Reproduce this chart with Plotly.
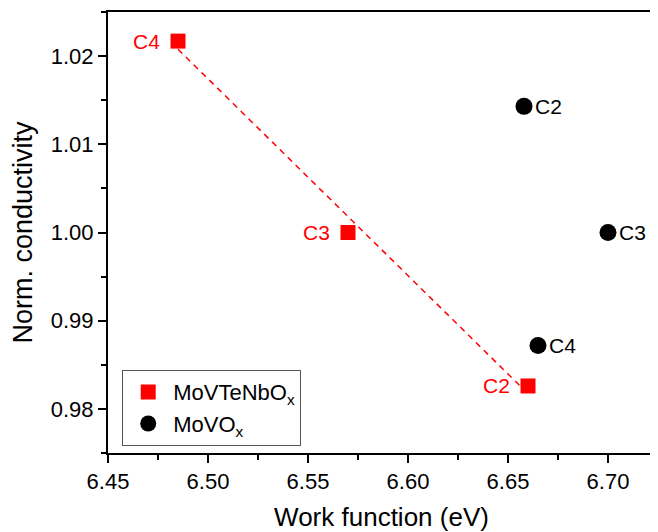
import numpy as np
import plotly.graph_objects as go

# Data
red_name = "MoVTeNbO<sub>x</sub>"
red_labels = ["C4", "C3", "C2"]
red_wf = [6.485, 6.570, 6.660]
red_cond = [1.0217, 1.0000, 0.9826]

black_name = "MoVO<sub>x</sub>"
black_labels = ["C2", "C3", "C4"]
black_wf = [6.658, 6.700, 6.665]
black_cond = [1.0143, 1.0000, 0.9872]

x_ticks = [6.45, 6.50, 6.55, 6.60, 6.65, 6.70]
x_tick_text = ["6.45", "6.50", "6.55", "6.60", "6.65", "6.70"]
y_ticks = [0.98, 0.99, 1.00, 1.01, 1.02]
y_tick_text = ["0.98", "0.99", "1.00", "1.01", "1.02"]

# Linear fit for the red dashed line
slope, intercept = np.polyfit(red_wf, red_cond, 1)
fit_x = np.array([min(red_wf), max(red_wf)])
fit_y = slope * fit_x + intercept

FONT = "Liberation Sans, Arial, sans-serif"

fig = go.Figure()
fig.add_trace(go.Scatter(
    x=fit_x, y=fit_y, mode="lines",
    line=dict(color="#ff0000", width=1.5, dash="6px,5px"),
    showlegend=False, hoverinfo="skip"))
fig.add_trace(go.Scatter(
    x=red_wf, y=red_cond, mode="markers", name=red_name,
    marker=dict(symbol="square", size=15, color="#ff0000")))
fig.add_trace(go.Scatter(
    x=black_wf, y=black_cond, mode="markers", name=black_name,
    marker=dict(symbol="circle", size=17, color="#000000")))

annotations = []
for lab, xv, yv in zip(red_labels, red_wf, red_cond):
    annotations.append(dict(x=xv, y=yv, xref="x", yref="y", text=lab, showarrow=False,
                            xanchor="right", yanchor="middle", xshift=-16,
                            font=dict(color="#ff0000", size=21, family=FONT)))
for lab, xv, yv in zip(black_labels, black_wf, black_cond):
    annotations.append(dict(x=xv, y=yv, xref="x", yref="y", text=lab, showarrow=False,
                            xanchor="left", yanchor="middle", xshift=9,
                            font=dict(color="#000000", size=21, family=FONT)))

# The page body adds an 8px margin, so the figure is sized to fit the 658x532 window.
fig.update_layout(
    width=650, height=524,
    margin=dict(l=100, r=3, t=4, b=79, autoexpand=False),
    paper_bgcolor="white", plot_bgcolor="white",
    font=dict(family=FONT, color="black"),
    annotations=annotations,
    legend=dict(x=0.026, y=0.188, xanchor="left", yanchor="top",
                bgcolor="white", bordercolor="#555555", borderwidth=1,
                font=dict(size=22, family=FONT),
                tracegroupgap=0, itemsizing="trace", itemwidth=40),
)
fig.update_xaxes(
    range=[6.45, 6.7235], tickmode="array", tickvals=x_ticks, ticktext=x_tick_text,
    showgrid=False, zeroline=False,
    showline=True, linecolor="black", linewidth=2, mirror=True,
    ticks="outside", ticklen=8, tickwidth=2, tickcolor="black",
    minor=dict(tickmode="linear", tick0=6.475, dtick=0.05, ticks="outside",
               ticklen=5, tickwidth=2, tickcolor="black", showgrid=False),
    tickfont=dict(size=22, family=FONT),
    title=dict(text="Work function (eV)", font=dict(size=26, family=FONT), standoff=16),
)
fig.update_yaxes(
    range=[0.975, 1.025], tickmode="array", tickvals=y_ticks, ticktext=y_tick_text,
    showgrid=False, zeroline=False,
    showline=True, linecolor="black", linewidth=2, mirror=True,
    ticks="outside", ticklen=8, tickwidth=2, tickcolor="black",
    minor=dict(tickmode="linear", tick0=0.985, dtick=0.01, ticks="outside",
               ticklen=5, tickwidth=2, tickcolor="black", showgrid=False),
    tickfont=dict(size=22, family=FONT),
    title=dict(text="Norm. conductivity", font=dict(size=27, family=FONT), standoff=10),
)

fig.write_html("out.html")
